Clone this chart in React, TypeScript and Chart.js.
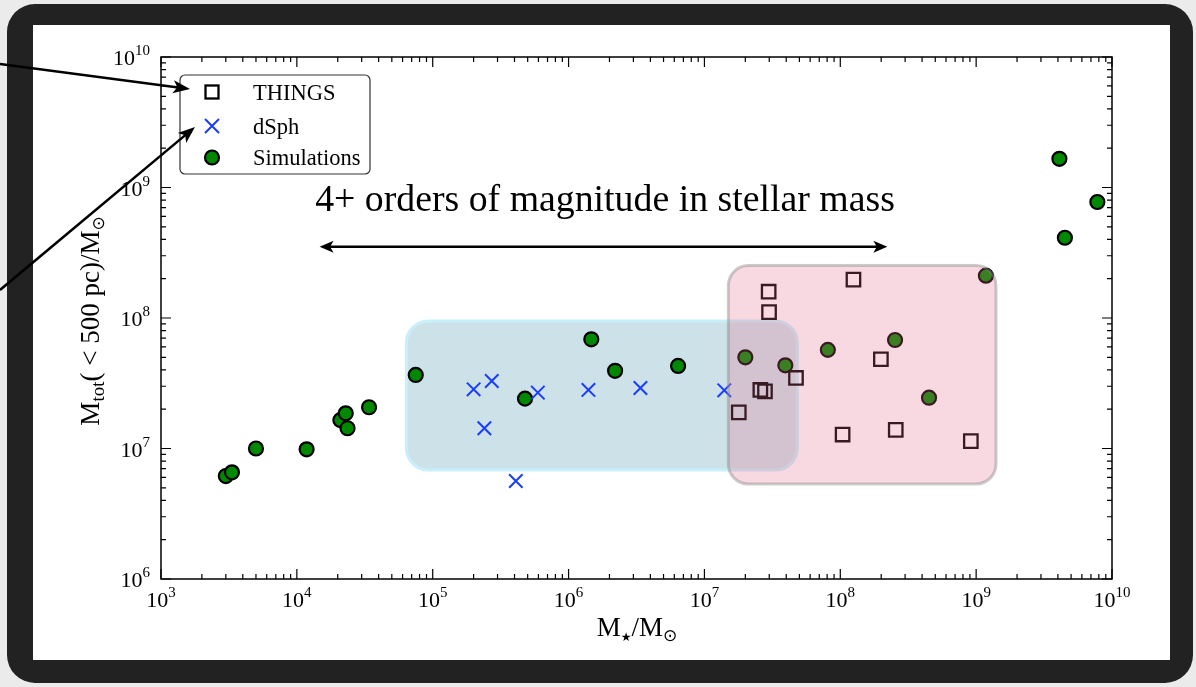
import React, { useEffect, useRef } from "react";
import { Chart, registerables } from "chart.js";

Chart.register(...registerables);

const W = 1196;
const H = 687;
const SERIF = '"Liberation Serif", "DejaVu Serif", serif';
const SYM = '"DejaVu Sans", sans-serif';

// ---- data ----
const thingsX = [2.97e7, 2.99e7, 1.25e8, 1.99e8, 4.72e7, 2.58e7, 2.79e7, 1.79e7, 1.04e8, 2.56e8, 9.14e8];
const thingsY = [1.59e8, 1.11e8, 1.97e8, 4.83e7, 3.47e7, 2.81e7, 2.74e7, 1.89e7, 1.28e7, 1.39e7, 1.14e7];

const dsphX = [2.0e5, 2.72e5, 2.4e5, 5.94e5, 4.09e5, 1.4e6, 3.38e6, 1.4e7];
const dsphY = [2.84e7, 3.29e7, 1.43e7, 2.68e7, 5.64e6, 2.81e7, 2.91e7, 2.79e7];

const simX = [3.0e3, 3.33e3, 5.0e3, 1.18e4, 2.09e4, 2.29e4, 2.36e4, 3.4e4, 7.5e4, 4.78e5, 1.47e6, 2.2e6, 6.4e6, 2.0e7, 3.94e7, 8.1e7, 2.53e8, 4.5e8, 1.18e9, 4.1e9, 7.8e9, 4.5e9];
const simY = [6.15e6, 6.57e6, 1.0e7, 9.86e6, 1.65e7, 1.86e7, 1.43e7, 2.07e7, 3.66e7, 2.41e7, 6.87e7, 3.94e7, 4.29e7, 5.0e7, 4.34e7, 5.7e7, 6.78e7, 2.45e7, 2.11e8, 1.66e9, 7.74e8, 4.12e8];

const xDecades = [3, 4, 5, 6, 7, 8, 9, 10];
const yDecades = [6, 7, 8, 9, 10];
const minorMultipliers = [2, 3, 4, 5, 6, 7, 8, 9];

const legendLabels = ["THINGS", "dSph", "Simulations"];
const annotationText = "4+ orders of magnitude in stellar mass";

const blueBoxX = [6.4e4, 4.83e7];
const blueBoxY = [6.84e6, 9.5e7];
const pinkBoxX = [1.5e7, 1.4e9];
const pinkBoxY = [5.35e6, 2.52e8];
const spanArrowX = [1.47e4, 2.22e8];
const spanArrowY = 3.52e8;

const GREEN = "#008800";
const BLUE = "#1a3cff";

type Run = { t: string; size: number; dy?: number; font?: string };

function runsWidth(ctx: CanvasRenderingContext2D, runs: Run[]) {
  let w = 0;
  for (const r of runs) {
    ctx.font = `${r.size}px ${r.font || SERIF}`;
    w += ctx.measureText(r.t).width;
  }
  return w;
}

function drawRuns(ctx: CanvasRenderingContext2D, runs: Run[], x: number, y: number, align: "left" | "center" | "right") {
  const w = runsWidth(ctx, runs);
  let cx = align === "left" ? x : align === "center" ? x - w / 2 : x - w;
  ctx.textAlign = "left";
  ctx.textBaseline = "alphabetic";
  for (const r of runs) {
    ctx.font = `${r.size}px ${r.font || SERIF}`;
    ctx.fillText(r.t, cx, y + (r.dy || 0));
    cx += ctx.measureText(r.t).width;
  }
}

function roundRectPath(ctx: CanvasRenderingContext2D, x: number, y: number, w: number, h: number, r: number) {
  ctx.beginPath();
  ctx.moveTo(x + r, y);
  ctx.lineTo(x + w - r, y);
  ctx.arcTo(x + w, y, x + w, y + r, r);
  ctx.lineTo(x + w, y + h - r);
  ctx.arcTo(x + w, y + h, x + w - r, y + h, r);
  ctx.lineTo(x + r, y + h);
  ctx.arcTo(x, y + h, x, y + h - r, r);
  ctx.lineTo(x, y + r);
  ctx.arcTo(x, y, x + r, y, r);
  ctx.closePath();
}

function arrowHead(ctx: CanvasRenderingContext2D, fx: number, fy: number, tx: number, ty: number, L: number, Wd: number) {
  const dx = tx - fx;
  const dy = ty - fy;
  const len = Math.hypot(dx, dy);
  const ux = dx / len;
  const uy = dy / len;
  const nx = -uy;
  const ny = ux;
  ctx.beginPath();
  ctx.moveTo(tx, ty);
  ctx.lineTo(tx - L * ux + Wd * nx, ty - L * uy + Wd * ny);
  ctx.lineTo(tx - 0.75 * L * ux, ty - 0.75 * L * uy);
  ctx.lineTo(tx - L * ux - Wd * nx, ty - L * uy - Wd * ny);
  ctx.closePath();
  ctx.fill();
}

function arrowLine(ctx: CanvasRenderingContext2D, fx: number, fy: number, tx: number, ty: number, both: boolean, L: number, Wd: number) {
  const dx = tx - fx;
  const dy = ty - fy;
  const len = Math.hypot(dx, dy);
  const ux = dx / len;
  const uy = dy / len;
  ctx.beginPath();
  ctx.moveTo(both ? fx + ux * L * 0.7 : fx, both ? fy + uy * L * 0.7 : fy);
  ctx.lineTo(tx - ux * L * 0.7, ty - uy * L * 0.7);
  ctx.stroke();
  arrowHead(ctx, fx, fy, tx, ty, L, Wd);
  if (both) arrowHead(ctx, tx, ty, fx, fy, L, Wd);
}

const decorPlugin = {
  id: "decor",
  beforeDraw(chart: any) {
    const ctx: CanvasRenderingContext2D = chart.ctx;
    ctx.save();
    ctx.fillStyle = "#ebebeb";
    ctx.fillRect(0, 0, W, H);
    roundRectPath(ctx, 7, 4, 1186, 679, 28);
    ctx.fillStyle = "#222222";
    ctx.fill();
    ctx.fillStyle = "#ffffff";
    ctx.fillRect(33, 25, 1137, 635);
    ctx.restore();
  },
  beforeDatasetsDraw(chart: any) {
    const ctx: CanvasRenderingContext2D = chart.ctx;
    const xs = chart.scales.x;
    const ys = chart.scales.y;
    const x0 = xs.getPixelForValue(blueBoxX[0]);
    const x1 = xs.getPixelForValue(blueBoxX[1]);
    const y0 = ys.getPixelForValue(blueBoxY[1]);
    const y1 = ys.getPixelForValue(blueBoxY[0]);
    ctx.save();
    roundRectPath(ctx, x0, y0, x1 - x0, y1 - y0, 22);
    ctx.fillStyle = "#cde1e8";
    ctx.fill();
    ctx.lineWidth = 3;
    ctx.strokeStyle = "#c8f0fa";
    ctx.stroke();
    ctx.restore();
  },
  afterDatasetsDraw(chart: any) {
    const ctx: CanvasRenderingContext2D = chart.ctx;
    const xs = chart.scales.x;
    const ys = chart.scales.y;
    const x0 = xs.getPixelForValue(pinkBoxX[0]);
    const x1 = xs.getPixelForValue(pinkBoxX[1]);
    const y0 = ys.getPixelForValue(pinkBoxY[1]);
    const y1 = ys.getPixelForValue(pinkBoxY[0]);
    ctx.save();
    roundRectPath(ctx, x0, y0, x1 - x0, y1 - y0, 20);
    ctx.fillStyle = "rgba(230,105,135,0.25)";
    ctx.fill();
    ctx.lineWidth = 3;
    ctx.strokeStyle = "rgba(140,140,140,0.45)";
    ctx.stroke();
    ctx.restore();
  },
  afterDraw(chart: any) {
    const ctx: CanvasRenderingContext2D = chart.ctx;
    const xs = chart.scales.x;
    const ys = chart.scales.y;
    const a = chart.chartArea;
    ctx.save();
    ctx.fillStyle = "#000";
    ctx.strokeStyle = "#000";

    // ticks (inward, all sides)
    ctx.lineWidth = 1.2;
    ctx.beginPath();
    for (const e of xDecades) {
      const px = xs.getPixelForValue(Math.pow(10, e));
      ctx.moveTo(px, a.bottom); ctx.lineTo(px, a.bottom - 10);
      ctx.moveTo(px, a.top); ctx.lineTo(px, a.top + 10);
      if (e < xDecades[xDecades.length - 1]) {
        for (const m of minorMultipliers) {
          const mx = xs.getPixelForValue(m * Math.pow(10, e));
          ctx.moveTo(mx, a.bottom); ctx.lineTo(mx, a.bottom - 5);
          ctx.moveTo(mx, a.top); ctx.lineTo(mx, a.top + 5);
        }
      }
    }
    for (const e of yDecades) {
      const py = ys.getPixelForValue(Math.pow(10, e));
      ctx.moveTo(a.left, py); ctx.lineTo(a.left + 10, py);
      ctx.moveTo(a.right, py); ctx.lineTo(a.right - 10, py);
      if (e < yDecades[yDecades.length - 1]) {
        for (const m of minorMultipliers) {
          const my = ys.getPixelForValue(m * Math.pow(10, e));
          ctx.moveTo(a.left, my); ctx.lineTo(a.left + 5, my);
          ctx.moveTo(a.right, my); ctx.lineTo(a.right - 5, my);
        }
      }
    }
    ctx.stroke();

    // spines
    ctx.lineWidth = 1.5;
    ctx.strokeRect(a.left, a.top, a.right - a.left, a.bottom - a.top);

    // tick labels
    for (const e of xDecades) {
      const px = xs.getPixelForValue(Math.pow(10, e));
      drawRuns(ctx, [{ t: "10", size: 22 }, { t: String(e), size: 15, dy: -10 }], px, a.bottom + 28, "center");
    }
    for (const e of yDecades) {
      const py = ys.getPixelForValue(Math.pow(10, e));
      drawRuns(ctx, [{ t: "10", size: 22 }, { t: String(e), size: 15, dy: -10 }], a.left - 11, py + 8, "right");
    }

    // axis titles
    drawRuns(
      ctx,
      [
        { t: "M", size: 27 },
        { t: "★", size: 12, dy: 5, font: SYM },
        { t: "/M", size: 27 },
        { t: "⊙", size: 17, dy: 5, font: SYM },
      ],
      637,
      636,
      "center"
    );
    ctx.save();
    ctx.translate(99, 321);
    ctx.rotate(-Math.PI / 2);
    drawRuns(
      ctx,
      [
        { t: "M", size: 27 },
        { t: "tot", size: 19, dy: 5 },
        { t: "( < 500 pc)/M", size: 27 },
        { t: "⊙", size: 17, dy: 5, font: SYM },
      ],
      0,
      0,
      "center"
    );
    ctx.restore();

    // annotation text (fitted to its width)
    const targetW = 580;
    ctx.font = `30px ${SERIF}`;
    const mw = ctx.measureText(annotationText).width;
    const fs = (30 * targetW) / mw;
    ctx.font = `${fs}px ${SERIF}`;
    ctx.textAlign = "center";
    ctx.textBaseline = "alphabetic";
    ctx.fillText(annotationText, 605, 211);

    // span arrow
    ctx.lineWidth = 2.5;
    const ax0 = xs.getPixelForValue(spanArrowX[0]);
    const ax1 = xs.getPixelForValue(spanArrowX[1]);
    const ay = ys.getPixelForValue(spanArrowY);
    arrowLine(ctx, ax0, ay, ax1, ay, true, 14, 6);

    // legend
    roundRectPath(ctx, 180, 75, 190, 99, 5);
    ctx.fillStyle = "#ffffff";
    ctx.fill();
    ctx.lineWidth = 1.2;
    ctx.strokeStyle = "#333333";
    ctx.stroke();
    const lx = 212;
    const rowsY = [92, 126, 157.5];
    // square
    ctx.lineWidth = 2.3;
    ctx.strokeStyle = "#000";
    ctx.strokeRect(lx - 6.5, rowsY[0] - 6.5, 13, 13);
    // cross
    ctx.lineWidth = 2;
    ctx.strokeStyle = BLUE;
    ctx.beginPath();
    ctx.moveTo(lx - 7, rowsY[1] - 7); ctx.lineTo(lx + 7, rowsY[1] + 7);
    ctx.moveTo(lx + 7, rowsY[1] - 7); ctx.lineTo(lx - 7, rowsY[1] + 7);
    ctx.stroke();
    // circle
    ctx.lineWidth = 2.2;
    ctx.beginPath();
    ctx.arc(lx, rowsY[2], 7, 0, Math.PI * 2);
    ctx.fillStyle = GREEN;
    ctx.fill();
    ctx.strokeStyle = "#000";
    ctx.stroke();
    ctx.fillStyle = "#000";
    legendLabels.forEach((lab, i) => {
      drawRuns(ctx, [{ t: lab, size: 22.5 }], 253, rowsY[i] + 7.5, "left");
    });

    // external pointer arrows
    ctx.lineWidth = 2.5;
    ctx.strokeStyle = "#000";
    ctx.fillStyle = "#000";
    arrowLine(ctx, 0, 64, 190, 89, false, 17, 6.5);
    arrowLine(ctx, 0, 290, 195, 127, false, 17, 6.5);

    ctx.restore();
  },
};

export default function App() {
  const ref = useRef<HTMLCanvasElement | null>(null);
  useEffect(() => {
    if (!ref.current) return;
    const chart = new Chart(ref.current, {
      type: "scatter",
      data: {
        datasets: [
          {
            label: legendLabels[0],
            data: thingsX.map((x, i) => ({ x, y: thingsY[i] })),
            pointStyle: "rect",
            radius: 9.5,
            borderWidth: 2.3,
            borderColor: "#000000",
            backgroundColor: "rgba(0,0,0,0)",
            clip: false,
          } as any,
          {
            label: legendLabels[1],
            data: dsphX.map((x, i) => ({ x, y: dsphY[i] })),
            pointStyle: "crossRot",
            radius: 9.5,
            borderWidth: 2,
            borderColor: BLUE,
            backgroundColor: BLUE,
            clip: false,
          } as any,
          {
            label: legendLabels[2],
            data: simX.map((x, i) => ({ x, y: simY[i] })),
            pointStyle: "circle",
            radius: 7,
            borderWidth: 2.2,
            borderColor: "#000000",
            backgroundColor: GREEN,
            clip: false,
          } as any,
        ],
      },
      options: {
        animation: false,
        responsive: false,
        devicePixelRatio: 1,
        events: [],
        layout: { padding: { left: 161, top: 57, right: W - 1112, bottom: H - 579 } },
        plugins: { legend: { display: false }, tooltip: { enabled: false }, title: { display: false } },
        scales: {
          x: { type: "logarithmic", min: 1e3, max: 1e10, display: false },
          y: { type: "logarithmic", min: 1e6, max: 1e10, display: false },
        },
      },
      plugins: [decorPlugin],
    });
    return () => chart.destroy();
  }, []);
  return (
    <div style={{ position: "fixed", left: 0, top: 0, width: W, height: H, background: "#ebebeb" }}>
      <canvas ref={ref} width={W} height={H} style={{ display: "block", width: W, height: H }} />
    </div>
  );
}
